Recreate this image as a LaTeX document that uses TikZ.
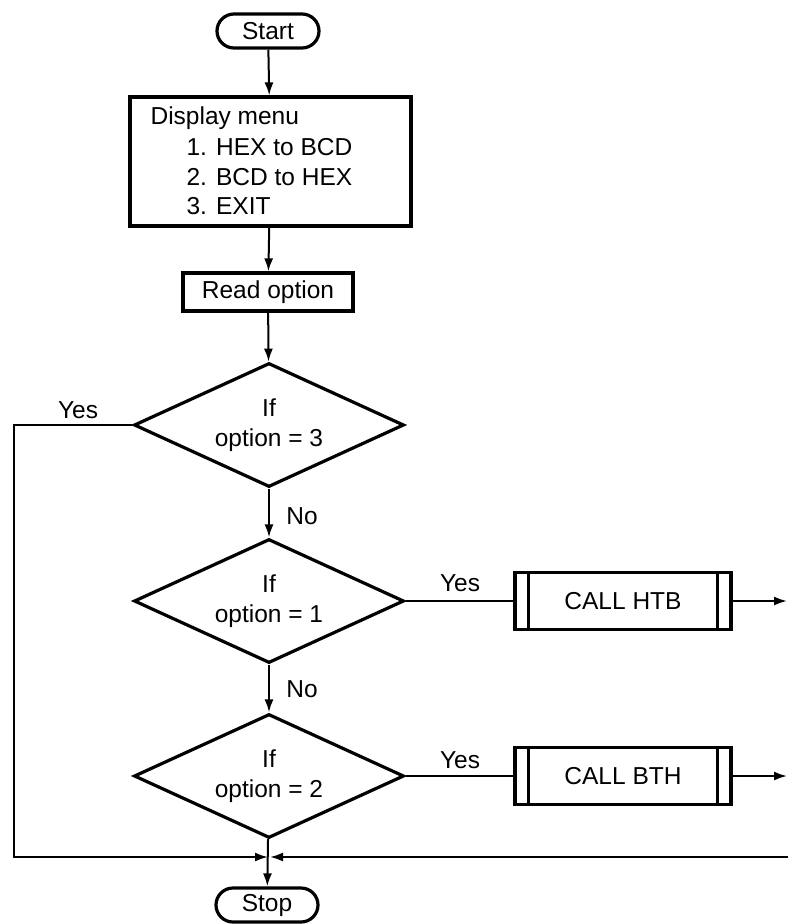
\documentclass[tikz,border=0pt]{standalone}
\usepackage{fontspec}
\setmainfont{Liberation Sans}
\usetikzlibrary{shapes.geometric,arrows.meta}
\begin{document}
\begin{tikzpicture}[x=1pt,y=-1pt,
  every node/.style={font=\fontsize{24.5}{30}\selectfont},
  box/.style={draw,line width=3.2pt,inner sep=0pt},
  term/.style={box,rounded corners=17pt,minimum width=102pt,minimum height=34pt},
  dec/.style={draw,line width=3.2pt,diamond,shape aspect=2.18,minimum width=270pt,minimum height=124pt,inner sep=0pt,align=center},
  callbox/.style={box,minimum width=216pt,minimum height=57pt},
  conn/.style={line width=2pt},
  arr/.style={conn,-{Latex[length=13pt,width=9pt]}},
  lbl/.style={inner sep=0pt}
]
\useasboundingbox (0,0) rectangle (788,924);
\node[term] (start) at (268,31) {Start};
\node[box,minimum width=281pt,minimum height=129pt] (disp) at (270.5,161.5) {};
\node[lbl,anchor=north west,align=left,font=\fontsize{24.5}{29.5}\selectfont] (dtext) at ([xshift=22pt,yshift=-11pt]disp.north west)
  {Display menu\\[2pt]\hspace*{36pt}1. HEX to BCD\\\hspace*{36pt}2. BCD to HEX\\\hspace*{36pt}3. EXIT};
\node[box,minimum width=170pt,minimum height=38pt] (read) at (268,292) {Read option};
\node[dec] (d1) at (269,425) {If\\option = 3};
\node[dec] (d2) at (269,601) {If\\option = 1};
\node[dec] (d3) at (269,776) {If\\option = 2};
\node[callbox] (c1) at (623,601) {CALL HTB};
\node[callbox] (c2) at (623,776) {CALL BTH};
\foreach \c in {c1,c2}{
  \draw[line width=2.6pt] ([xshift=15pt]\c.north west) -- ([xshift=15pt]\c.south west);
  \draw[line width=2.6pt] ([xshift=-15pt]\c.north east) -- ([xshift=-15pt]\c.south east);
}
\node[term] (stop) at (267,905) {Stop};

\coordinate (m) at (269,857);
\coordinate (lb) at (14,857);
\coordinate (rb) at (788,857);
\coordinate (r1) at (787,601);
\coordinate (r2) at (787,776);

\draw[arr] (start) -- (disp);
\draw[arr] (disp) -- (read);
\draw[arr] (read) -- (d1);
\draw[arr] (d1) -- (d2);
\draw[arr] (d2) -- (d3);
\draw[arr] (d3) -- (stop);
\draw[arr] (d1.west) -| (lb) -- ([xshift=-1pt]m);
\draw[arr] (rb) -- ([xshift=1pt]m);
\draw[conn] (d2.east) -- (c1.west);
\draw[conn] (d3.east) -- (c2.west);
\draw[arr] (c1.east) -- (r1);
\draw[arr] (c2.east) -- (r2);

\node[lbl] (y1) at (78,410) {Yes};
\node[lbl] (y2) at (460,583) {Yes};
\node[lbl] (y3) at (460,760) {Yes};
\node[lbl] (n1) at (302,516) {No};
\node[lbl] (n2) at (302,689) {No};
\end{tikzpicture}
\end{document}
